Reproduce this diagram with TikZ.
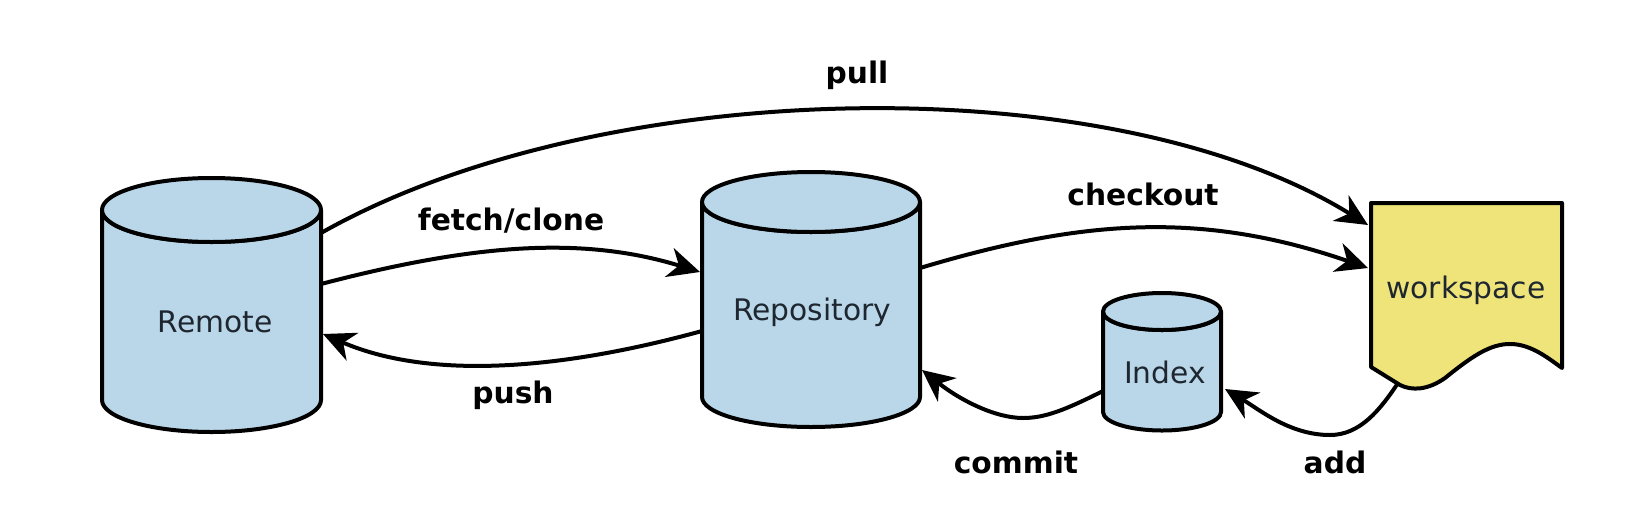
\documentclass[tikz,border=0pt]{standalone}
\usepackage{fontspec}
\setmainfont{DejaVu Sans}
\usetikzlibrary{arrows.meta}
\definecolor{cylblue}{RGB}{186,215,233}
\definecolor{wsyellow}{RGB}{239,228,122}
\definecolor{nodetext}{RGB}{30,38,48}
\begin{document}
\begin{tikzpicture}[x=1pt,y=-1pt,
  shapeline/.style={line width=4pt, line join=round, draw=black},
  cylbody/.style={shapeline, fill=cylblue},
  wsbody/.style={shapeline, fill=wsyellow},
  anchorbox/.style={inner sep=0pt, outer sep=0pt, draw=none, fill=none},
  nodelabel/.style={anchor=base, inner sep=0pt, text=nodetext, font=\fontsize{29.7}{34}\selectfont},
  edgelabel/.style={anchor=base, inner sep=0pt, font=\fontsize{29.7}{34}\selectfont\bfseries},
  conn/.style={line width=4pt, draw=black, -{Stealth[length=32pt, width=30pt, inset=10pt]}}
]
\useasboundingbox (0,0) rectangle (1640,520);

% ---- Remote cylinder ----
\path[cylbody] (102,210) -- (102,400) arc[start angle=180, end angle=0, x radius=109.5, y radius=32] -- (321,210) arc[start angle=0, end angle=180, x radius=109.5, y radius=32] -- cycle;
\path[cylbody] (211.5,210) ellipse[x radius=109.5, y radius=32];
\node[anchorbox, minimum width=219pt, minimum height=254pt] (remote) at (211.5,305) {};
\node[nodelabel] (remotetxt) at (215,332) {Remote};

% ---- Repository cylinder ----
\path[cylbody] (702,202) -- (702,397) arc[start angle=180, end angle=0, x radius=109, y radius=30] -- (920,202) arc[start angle=0, end angle=180, x radius=109, y radius=30] -- cycle;
\path[cylbody] (811,202) ellipse[x radius=109, y radius=30];
\node[anchorbox, minimum width=218pt, minimum height=255pt] (repo) at (811,299.5) {};
\node[nodelabel] (repotxt) at (812,320) {Repository};

% ---- Index cylinder ----
\path[cylbody] (1103,311.5) -- (1103,412) arc[start angle=180, end angle=0, x radius=59, y radius=18.5] -- (1221,311.5) arc[start angle=0, end angle=180, x radius=59, y radius=18.5] -- cycle;
\path[cylbody] (1162,311.5) ellipse[x radius=59, y radius=18.5];
\node[anchorbox, minimum width=118pt, minimum height=137pt] (index) at (1162,361.5) {};
\node[nodelabel] (indextxt) at (1165,383) {Index};

% ---- Workspace document ----
\path[wsbody] (1371,203) -- (1371,367) -- (1400,385)
  .. controls (1412,391) and (1428,390) .. (1445,378)
  .. controls (1470,358) and (1490,343) .. (1512,344)
  .. controls (1532,345) and (1548,358) .. (1562,368)
  -- (1562,203) -- cycle;
\node[anchorbox, minimum width=191pt, minimum height=185pt] (ws) at (1466.5,295.5) {};
\node[nodelabel] (wstxt) at (1466,298) {workspace};

% ---- Connectors ----
% pull
\draw[conn] ([yshift=-55pt]remote.north east) .. controls (600,75) and (1110,65) .. ([yshift=-22pt, xshift=-3pt]ws.north west);
% fetch/clone
\draw[conn] ([yshift=21pt]remote.east) .. controls (470,245) and (580,235) .. ([yshift=27.5pt, xshift=-2pt]repo.west);
% push
\draw[conn] ([yshift=-31.5pt]repo.west) .. controls (560,370) and (430,380) .. ([yshift=-29pt, xshift=2pt]remote.east);
% checkout
\draw[conn] ([yshift=31.5pt]repo.east) .. controls (1080,220) and (1200,210) .. ([yshift=27.5pt, xshift=-3pt]ws.west);
% commit
\draw[conn] ([yshift=-29.5pt]index.west) .. controls (1065,410) and (1045,418) .. (1023,418)
  .. controls (995,418) and (960,400) .. ([yshift=-70.5pt, xshift=2pt]repo.east);
% add
\draw[conn] ([xshift=-68.5pt, yshift=5pt]ws.south) .. controls (1380,410) and (1360,435) .. (1330,435)
  .. controls (1290,435) and (1260,410) .. ([xshift=4pt,yshift=-27.5pt]index.east);

% ---- Labels ----
\node[edgelabel] (lpull) at (857,83) {pull};
\node[edgelabel] (lfetch) at (511,230) {fetch/clone};
\node[edgelabel] (lpush) at (513,403) {push};
\node[edgelabel] (lcheckout) at (1143,205) {checkout};
\node[edgelabel] (lcommit) at (1016,473) {commit};
\node[edgelabel] (ladd) at (1335,473) {add};
\end{tikzpicture}
\end{document}
